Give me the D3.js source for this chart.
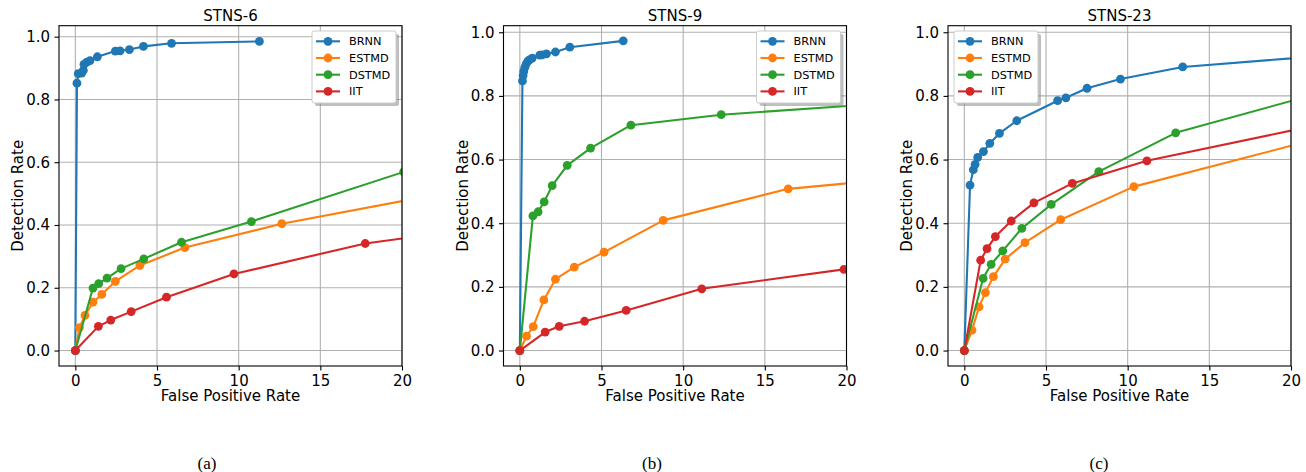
<!DOCTYPE html>
<html>
<head>
<meta charset="utf-8">
<script src="https://cdn.jsdelivr.net/npm/d3@7"></script>
<style>
  body { margin: 0; background: #fff; }
  svg { display: block; font-family: "DejaVu Sans", sans-serif; }
</style>
</head>
<body>
<svg width="1306" height="472"></svg>
<script>
// ---- data: [false positive rate, detection rate] ----
const seriesNames = ["BRNN", "ESTMD", "DSTMD", "IIT"];
const xTicks = [0, 5, 10, 15, 20];
const yTicks = [0.0, 0.2, 0.4, 0.6, 0.8, 1.0];
const titles = ["STNS-6", "STNS-9", "STNS-23"];
const captions = ["(a)", "(b)", "(c)"];

const stns6BRNN  = [[0,0],[0.10,0.852],[0.18,0.882],[0.39,0.884],[0.49,0.893],[0.53,0.912],[0.70,0.919],[0.90,0.924],[1.35,0.936],[2.45,0.954],[2.74,0.955],[3.31,0.959],[4.17,0.969],[5.89,0.979],[11.27,0.985]];
const stns6ESTMD = [[0,0],[0.25,0.073],[0.59,0.112],[1.08,0.154],[1.62,0.179],[2.45,0.220],[3.95,0.271],[6.71,0.328],[12.64,0.404],[25,0.525]];
const stns6DSTMD = [[0,0],[1.08,0.199],[1.43,0.213],[1.94,0.231],[2.80,0.261],[4.19,0.292],[6.50,0.345],[10.78,0.411],[20.1,0.569]];
const stns6IIT   = [[0,0],[1.41,0.077],[2.17,0.097],[3.42,0.124],[5.58,0.170],[9.71,0.244],[17.75,0.341],[24,0.385]];

const stns9BRNN  = [[0,0],[0.16,0.847],[0.20,0.864],[0.24,0.877],[0.31,0.890],[0.39,0.901],[0.49,0.909],[0.61,0.914],[0.76,0.919],[1.22,0.928],[1.37,0.929],[1.63,0.932],[2.18,0.938],[3.06,0.953],[6.33,0.973]];
const stns9ESTMD = [[0,0],[0.41,0.045],[0.82,0.075],[1.47,0.159],[2.18,0.224],[3.33,0.262],[5.16,0.309],[8.78,0.409],[16.43,0.508],[25,0.549]];
const stns9DSTMD = [[0,0],[0.80,0.423],[1.12,0.436],[1.49,0.467],[1.98,0.518],[2.90,0.582],[4.33,0.636],[6.80,0.708],[12.33,0.741],[25,0.786]];
const stns9IIT   = [[0,0],[1.55,0.058],[2.41,0.076],[3.96,0.092],[6.51,0.126],[11.14,0.194],[19.84,0.255]];

const stns23BRNN  = [[0,0],[0.35,0.520],[0.55,0.568],[0.66,0.585],[0.82,0.607],[1.17,0.625],[1.56,0.651],[2.15,0.682],[3.21,0.722],[5.71,0.785],[6.22,0.794],[7.51,0.824],[9.56,0.853],[13.37,0.891],[33.3,0.972]];
const stns23ESTMD = [[0,0],[0.47,0.064],[0.90,0.137],[1.29,0.182],[1.78,0.232],[2.50,0.287],[3.71,0.339],[5.90,0.411],[10.38,0.515],[25,0.71]];
const stns23DSTMD = [[0,0],[1.15,0.227],[1.64,0.271],[2.35,0.313],[3.52,0.384],[5.32,0.459],[8.23,0.562],[12.94,0.684],[25,0.855]];
const stns23IIT   = [[0,0],[1.00,0.284],[1.39,0.320],[1.90,0.358],[2.87,0.407],[4.26,0.464],[6.61,0.525],[11.18,0.596],[25,0.745]];

const panelData = [
  [stns6BRNN, stns6ESTMD, stns6DSTMD, stns6IIT],
  [stns9BRNN, stns9ESTMD, stns9DSTMD, stns9IIT],
  [stns23BRNN, stns23ESTMD, stns23DSTMD, stns23IIT]
];

// ---- layout ----
var svg = d3.select("svg");
var colors = ["#1f77b4", "#ff7f0e", "#2ca02c", "#d62728"];
var fs = "15px";

const frameTop = 25.7, frameBottom = 366, frameW = 343;
const frameLefts = [59, 503.5, 948];
const yDomains = [[-0.0493, 1.035], [-0.0486, 1.0206], [-0.0486, 1.0206]];
const legendSide = ["right", "right", "left"];
const captionX = [207, 652, 1099];

panelData.forEach(function (series, p) {
  var x0 = frameLefts[p], x1 = x0 + frameW;
  var x = d3.scaleLinear().domain([-1, 20]).range([x0, x1]);
  var y = d3.scaleLinear().domain(yDomains[p]).range([frameBottom, frameTop]);
  var g = svg.append("g");

  // grid
  g.append("g").selectAll("line").data(xTicks).join("line")
      .attr("x1", d => x(d)).attr("x2", d => x(d))
      .attr("y1", frameTop).attr("y2", frameBottom)
      .attr("stroke", "#b0b0b0").attr("stroke-width", 1.1);
  g.append("g").selectAll("line").data(yTicks).join("line")
      .attr("x1", x0).attr("x2", x1)
      .attr("y1", d => y(d)).attr("y2", d => y(d))
      .attr("stroke", "#b0b0b0").attr("stroke-width", 1.1);

  // axes
  var xAxis = d3.axisBottom(x).tickValues(xTicks).tickSizeOuter(0).tickSize(4.5).tickPadding(4.5).tickFormat(d3.format("d"));
  var yAxis = d3.axisLeft(y).tickValues(yTicks).tickSizeOuter(0).tickSize(4.5).tickPadding(4.5).tickFormat(d3.format(".1f"));
  [g.append("g").attr("transform", "translate(0," + frameBottom + ")").call(xAxis),
   g.append("g").attr("transform", "translate(" + x0 + ",0)").call(yAxis)].forEach(function (a) {
    a.select(".domain").remove();
    a.selectAll("line").attr("stroke", "#000").attr("stroke-width", 1.1);
    a.selectAll("text").attr("font-size", fs).attr("fill", "#000")
      .attr("font-family", "DejaVu Sans");
  });

  // clip + series
  var clipId = "clip" + p;
  svg.append("clipPath").attr("id", clipId).append("rect")
      .attr("x", x0).attr("y", frameTop).attr("width", frameW).attr("height", frameBottom - frameTop);
  var plot = g.append("g").attr("clip-path", "url(#" + clipId + ")");
  var line = d3.line().x(d => x(d[0])).y(d => y(d[1]));
  series.forEach(function (pts, i) {
    var sg = plot.append("g");
    sg.append("path").attr("d", line(pts)).attr("fill", "none")
        .attr("stroke", colors[i]).attr("stroke-width", 2.1).attr("stroke-linejoin", "round");
    sg.selectAll("circle").data(pts).join("circle")
        .attr("cx", d => x(d[0])).attr("cy", d => y(d[1])).attr("r", 4.4)
        .attr("fill", colors[i]);
  });

  // frame
  g.append("rect").attr("x", x0).attr("y", frameTop).attr("width", frameW).attr("height", frameBottom - frameTop)
      .attr("fill", "none").attr("stroke", "#000").attr("stroke-width", 1.1);

  // title, labels
  g.append("text").attr("x", (x0 + x1) / 2).attr("y", 21).attr("text-anchor", "middle")
      .attr("font-size", fs).text(titles[p]);
  g.append("text").attr("x", (x0 + x1) / 2).attr("y", 401).attr("text-anchor", "middle")
      .attr("font-size", fs).text("False Positive Rate");
  g.append("text").attr("transform", "translate(" + (x0 - 36) + "," + ((frameTop + frameBottom) / 2) + ") rotate(-90)")
      .attr("text-anchor", "middle").attr("font-size", fs).text("Detection Rate");
  g.append("text").attr("x", captionX[p]).attr("y", 469).attr("text-anchor", "middle")
      .attr("font-family", "Liberation Serif").attr("font-size", "17px").text(captions[p]);

  // legend
  var lw = 84, lh = 72;
  var lx = legendSide[p] === "right" ? x1 - 6 - lw : x0 + 6;
  var ly = 31;
  var leg = g.append("g").attr("transform", "translate(" + lx + "," + ly + ")");
  leg.append("rect").attr("x", 3).attr("y", 3).attr("width", lw).attr("height", lh).attr("rx", 2)
      .attr("fill", "#808080").attr("opacity", 0.5);
  leg.append("rect").attr("width", lw).attr("height", lh).attr("rx", 2)
      .attr("fill", "#fff").attr("stroke", "#cccccc").attr("stroke-width", 1);
  seriesNames.forEach(function (name, i) {
    var ry = 10.3 + i * 16.7;
    leg.append("line").attr("x1", 4).attr("x2", 28).attr("y1", ry).attr("y2", ry)
        .attr("stroke", colors[i]).attr("stroke-width", 2.1);
    leg.append("circle").attr("cx", 16).attr("cy", ry).attr("r", 4.4).attr("fill", colors[i]);
    leg.append("text").attr("x", 37).attr("y", ry + 4).attr("font-size", "11.3px").text(name);
  });
});
</script>
</body>
</html>
